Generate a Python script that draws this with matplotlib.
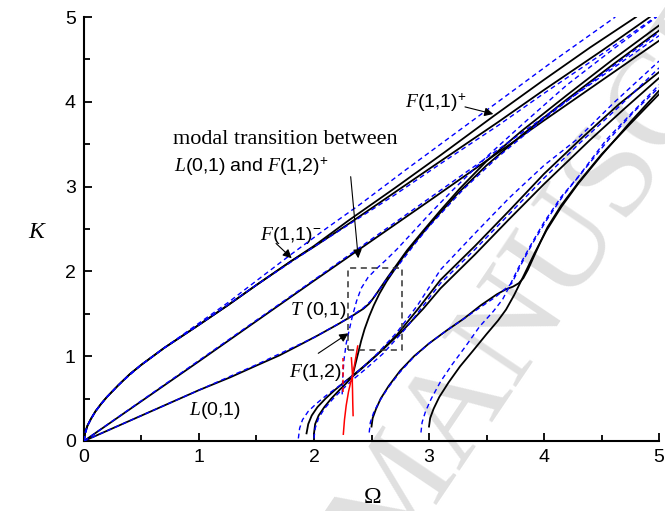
import matplotlib
matplotlib.use("Agg")
import matplotlib.pyplot as plt
from matplotlib.patches import Rectangle
from matplotlib.ticker import MultipleLocator

plt.rcParams["font.family"] = "Liberation Sans"
plt.rcParams["mathtext.fontset"] = "custom"
plt.rcParams["mathtext.rm"] = "Liberation Sans"
plt.rcParams["mathtext.it"] = "Liberation Serif:italic"
plt.rcParams["mathtext.bf"] = "Liberation Sans:bold"

# ---- dispersion curves, present model (black solid) ----
f11p_w = [0, 0.01, 0.03, 0.06, 0.1, 0.15, 0.2, 0.3, 0.4, 0.5, 0.7, 1.0, 1.25, 1.5, 1.8, 2.0, 2.3, 2.7, 3.1, 3.56, 4.0, 4.4, 4.8]
f11p_k = [0, 0.1, 0.18, 0.26, 0.35, 0.44, 0.52, 0.66, 0.79, 0.9, 1.1, 1.37, 1.6, 1.84, 2.12, 2.3, 2.6, 2.98, 3.37, 3.83, 4.26, 4.64, 5.0]

f11m_w = [0, 0.01, 0.03, 0.06, 0.1, 0.15, 0.2, 0.3, 0.4, 0.5, 0.7, 1.0, 1.25, 1.5, 1.8, 2.0, 2.3, 2.7, 3.1, 3.6, 4.0, 4.5, 4.92]
f11m_k = [0, 0.1, 0.18, 0.26, 0.35, 0.44, 0.52, 0.66, 0.79, 0.9, 1.1, 1.37, 1.6, 1.84, 2.12, 2.29, 2.56, 2.93, 3.3, 3.76, 4.14, 4.6, 5.0]

t01_w = [0, 1.0, 2.0, 3.0, 4.0, 5.0]
t01_k = [0, 0.94, 1.89, 2.83, 3.78, 4.72]

l01_w = [0, 0.25, 0.5, 0.75, 1.0, 1.27, 1.5, 1.7, 1.9, 2.04, 2.2, 2.35, 2.43, 2.48, 2.53, 2.58, 2.64, 2.72, 2.81, 2.95, 3.1, 3.27, 3.5, 3.8, 4.2, 4.6, 5.0]
l01_k = [0, 0.15, 0.3, 0.45, 0.6, 0.75, 0.89, 1.01, 1.15, 1.25, 1.37, 1.49, 1.56, 1.62, 1.71, 1.81, 1.93, 2.08, 2.25, 2.48, 2.72, 2.98, 3.3, 3.65, 4.08, 4.5, 4.9]

f12s_w = [2.335, 2.355, 2.375, 2.39, 2.41, 2.44, 2.48, 2.52, 2.57, 2.63, 2.7, 2.78, 2.9, 3.05, 3.25, 3.5, 3.8, 4.2, 4.6, 5.0]
f12s_k = [0.77, 0.88, 0.99, 1.07, 1.18, 1.32, 1.47, 1.6, 1.74, 1.88, 2.02, 2.18, 2.38, 2.62, 2.92, 3.25, 3.6, 4.03, 4.44, 4.84]

c1_w = [1.935, 1.95, 1.98, 2.03, 2.1, 2.18, 2.26, 2.335, 2.45, 2.6, 2.77, 2.95, 3.1, 3.4, 3.7, 4.0, 4.4, 4.7, 5.0]
c1_k = [0.09, 0.2, 0.3, 0.4, 0.5, 0.6, 0.69, 0.77, 0.9, 1.08, 1.3, 1.56, 1.8, 2.2, 2.62, 3.03, 3.55, 3.92, 4.28]

c2_w = [2.0, 2.01, 2.04, 2.09, 2.15, 2.22, 2.28, 2.335, 2.42, 2.55, 2.72, 2.9, 3.1, 3.4, 3.7, 4.0, 4.31, 4.65, 5.0]
c2_k = [0.09, 0.2, 0.3, 0.4, 0.5, 0.6, 0.68, 0.76, 0.86, 1.02, 1.25, 1.55, 1.9, 2.3, 2.72, 3.15, 3.55, 3.97, 4.35]

n1_w = [2.5, 2.51, 2.54, 2.58, 2.65, 2.75, 2.87, 3.0, 3.15, 3.3, 3.45, 3.59, 3.67, 3.73, 3.78, 3.82, 3.86, 3.91, 3.97, 4.03, 4.15, 4.3, 4.5, 4.75, 5.0]
n1_k = [0.17, 0.27, 0.38, 0.5, 0.65, 0.83, 1.0, 1.15, 1.3, 1.44, 1.6, 1.73, 1.79, 1.82, 1.86, 1.92, 2.02, 2.17, 2.35, 2.52, 2.78, 3.05, 3.38, 3.74, 4.09]

n2_w = [3.0, 3.01, 3.04, 3.09, 3.17, 3.27, 3.38, 3.5, 3.6, 3.67, 3.74, 3.82, 3.92, 4.02, 4.15, 4.3, 4.5, 4.75, 5.0]
n2_k = [0.17, 0.27, 0.38, 0.52, 0.69, 0.88, 1.06, 1.26, 1.42, 1.55, 1.72, 1.94, 2.22, 2.48, 2.76, 3.04, 3.37, 3.76, 4.13]

# ---- reference model (blue dashed) ----
bf11a_w = [0, 0.01, 0.03, 0.06, 0.1, 0.15, 0.2, 0.3, 0.4, 0.5, 0.7, 1.0, 1.25, 1.5, 1.8, 2.1, 2.4, 2.8, 3.1, 3.6, 4.1, 4.62]
bf11a_k = [0, 0.1, 0.18, 0.26, 0.35, 0.44, 0.52, 0.66, 0.79, 0.9, 1.1, 1.39, 1.63, 1.89, 2.2, 2.5, 2.79, 3.2, 3.5, 4.0, 4.5, 5.0]

bf11b_w = [0, 0.03, 0.1, 0.2, 0.3, 0.5, 0.7, 1.0, 1.5, 2.0, 2.3, 2.7, 3.1, 3.6, 4.0, 4.5, 4.97]
bf11b_k = [0, 0.18, 0.35, 0.52, 0.66, 0.9, 1.1, 1.37, 1.84, 2.29, 2.55, 2.9, 3.27, 3.72, 4.1, 4.56, 5.0]

bt01_w = [0, 1.0, 2.0, 3.0, 4.0, 5.0]
bt01_k = [0, 0.95, 1.9, 2.86, 3.82, 4.78]

bl01_w = [0, 0.5, 1.0, 1.5, 2.0, 2.3, 2.43, 2.5, 2.57, 2.65, 2.75, 2.88, 3.0, 3.3, 3.6, 4.0, 4.5, 5.0]
bl01_k = [0, 0.3, 0.6, 0.9, 1.22, 1.45, 1.57, 1.66, 1.79, 1.94, 2.1, 2.33, 2.53, 2.97, 3.35, 3.8, 4.32, 4.82]

bf12s_w = [2.245, 2.25, 2.26, 2.28, 2.3, 2.33, 2.37, 2.41, 2.47, 2.55, 2.63, 2.72, 2.85, 3.0, 3.2, 3.5, 3.8, 4.2, 4.6, 4.98]
bf12s_k = [0.55, 0.75, 0.95, 1.15, 1.27, 1.45, 1.65, 1.8, 1.93, 2.04, 2.14, 2.26, 2.45, 2.67, 2.95, 3.35, 3.72, 4.2, 4.62, 5.0]

bc1_w = [1.864, 1.875, 1.9, 1.95, 2.02, 2.1, 2.2, 2.3, 2.4, 2.55, 2.72, 2.9, 3.1, 3.4, 3.7, 4.0, 4.28, 4.6, 5.0]
bc1_k = [0.03, 0.15, 0.25, 0.35, 0.44, 0.53, 0.63, 0.73, 0.84, 1.03, 1.28, 1.6, 2.02, 2.45, 2.87, 3.25, 3.55, 3.98, 4.48]

bc2_w = [2.0, 2.01, 2.04, 2.09, 2.16, 2.24, 2.335, 2.45, 2.6, 2.8, 3.1, 3.4, 3.7, 4.0, 4.3, 4.65, 5.0]
bc2_k = [0.03, 0.15, 0.27, 0.38, 0.49, 0.6, 0.72, 0.85, 1.03, 1.33, 1.86, 2.26, 2.68, 3.1, 3.5, 3.94, 4.4]

bn1_w = [2.48, 2.49, 2.52, 2.57, 2.64, 2.74, 2.86, 3.0, 3.15, 3.3, 3.45, 3.58, 3.65, 3.72, 3.8, 3.9, 4.02, 4.17, 4.35, 4.56, 4.78, 5.0]
bn1_k = [0.1, 0.22, 0.34, 0.47, 0.62, 0.8, 0.98, 1.15, 1.3, 1.44, 1.58, 1.7, 1.78, 1.86, 2.08, 2.33, 2.6, 2.9, 3.2, 3.55, 3.88, 4.17]

bn2_w = [2.93, 2.94, 2.97, 3.02, 3.1, 3.2, 3.32, 3.44, 3.56, 3.64, 3.69, 3.78, 3.88, 4.0, 4.15, 4.3, 4.54, 4.75, 5.0]
bn2_k = [0.1, 0.22, 0.35, 0.5, 0.7, 0.9, 1.12, 1.35, 1.53, 1.67, 1.8, 2.05, 2.3, 2.58, 2.88, 3.12, 3.55, 3.85, 4.2]

# ---- transition region (red) ----
r1_w = [2.255, 2.265, 2.28, 2.3, 2.32, 2.335, 2.35, 2.365, 2.38]
r1_k = [0.08, 0.25, 0.42, 0.58, 0.7, 0.77, 0.88, 1.0, 1.12]
r2_w = [2.34, 2.337, 2.335, 2.333, 2.335, 2.33, 2.325]
r2_k = [0.3, 0.45, 0.6, 0.7, 0.77, 0.88, 0.98]
r3_w = [2.25, 2.25]
r3_k = [0.58, 0.98]

# zoom box around the modal transition
box_w = [2.296, 2.767]
box_k = [1.07, 2.04]

black_curves = [(f11p_w, f11p_k), (f11m_w, f11m_k), (t01_w, t01_k), (l01_w, l01_k),
                (f12s_w, f12s_k), (c1_w, c1_k), (c2_w, c2_k), (n1_w, n1_k), (n2_w, n2_k)]
blue_curves = [(bf11a_w, bf11a_k), (bf11b_w, bf11b_k), (bt01_w, bt01_k), (bl01_w, bl01_k),
               (bf12s_w, bf12s_k), (bc1_w, bc1_k), (bc2_w, bc2_k), (bn1_w, bn1_k), (bn2_w, bn2_k)]

fig = plt.figure(figsize=(6.65, 5.11), dpi=100)
fig.patch.set_facecolor("white")

fig.text(0.6075, 0.031, "ACCEPTED MANUSCRIPT", rotation=56, rotation_mode="anchor",
         ha="center", va="center", fontsize=98, family="Liberation Serif",
         color="#e0e0e0", zorder=-1)

ax = fig.add_axes([0.1263, 0.137, 0.8647, 0.8297])
ax.patch.set_alpha(0)

for w, k in black_curves:
    ax.plot(w, k, color="black", lw=1.3, zorder=3)
for w, k in blue_curves:
    ax.plot(w, k, color="#0000ff", lw=1.0, dashes=(3.5, 2.5), zorder=4)

ax.plot(r1_w, r1_k, color="red", lw=1.1, zorder=5)
ax.plot(r2_w, r2_k, color="red", lw=1.1, zorder=5)
ax.plot(r3_w, r3_k, color="red", lw=1.1, dashes=(3, 2), zorder=5)

ax.add_patch(Rectangle((box_w[0], box_k[0]), box_w[1] - box_w[0], box_k[1] - box_k[0],
                       fill=False, ec="#333333", lw=1.1, ls=(0, (4, 3)), zorder=6))

ax.set_xlim(0, 5)
ax.set_ylim(0, 5)
for s in ("top", "right"):
    ax.spines[s].set_visible(False)
for s in ("left", "bottom"):
    ax.spines[s].set_linewidth(1.5)
ax.xaxis.set_major_locator(MultipleLocator(1))
ax.xaxis.set_minor_locator(MultipleLocator(0.5))
ax.yaxis.set_major_locator(MultipleLocator(1))
ax.yaxis.set_minor_locator(MultipleLocator(0.5))
ax.tick_params(which="both", direction="in", width=1.3, labelsize=14, pad=6)
ax.tick_params(which="major", length=6)
ax.tick_params(which="minor", length=4)

fig.text(38 / 665, 1 - 232 / 511, "$K$", fontsize=17, ha="center", va="center")
fig.text(373 / 665, 1 - 497 / 511, "Ω", fontsize=17, family="Liberation Serif",
         ha="center", va="center")

# mode labels
ax.text(0.774, 3.5, "modal transition between", family="Liberation Serif", fontsize=16)
ax.text(0.78, 3.18, r"$L\mathrm{(0{,}1)\ and\ }F\mathrm{(1{,}2)}^{+}$", fontsize=14)
ax.text(2.79, 3.93, r"$F\mathrm{(1{,}1)}^{+}$", fontsize=14)
ax.text(1.53, 2.37, r"$F\mathrm{(1{,}1)}^{-}$", fontsize=14)
ax.text(1.79, 1.49, r"$T\ \mathrm{(0{,}1)}$", fontsize=14)
ax.text(1.78, 0.76, r"$F\mathrm{(1{,}2)}$", fontsize=14)
ax.text(0.91, 0.31, r"$L\mathrm{(0{,}1)}$", fontsize=14)

arrow = dict(arrowstyle="-|>", color="black", lw=0.8, mutation_scale=13, shrinkA=0, shrinkB=0)
ax.annotate("", xy=(3.559, 3.856), xytext=(3.313, 3.94), arrowprops=arrow, zorder=7)
ax.annotate("", xy=(1.806, 2.155), xytext=(1.67, 2.33), arrowprops=arrow, zorder=7)
ax.annotate("", xy=(2.385, 2.155), xytext=(2.319, 3.117), arrowprops=arrow, zorder=7)
ax.annotate("", xy=(2.298, 1.27), xytext=(2.037, 1.034), arrowprops=arrow, zorder=7)

fig.savefig("out.png", dpi=100)
